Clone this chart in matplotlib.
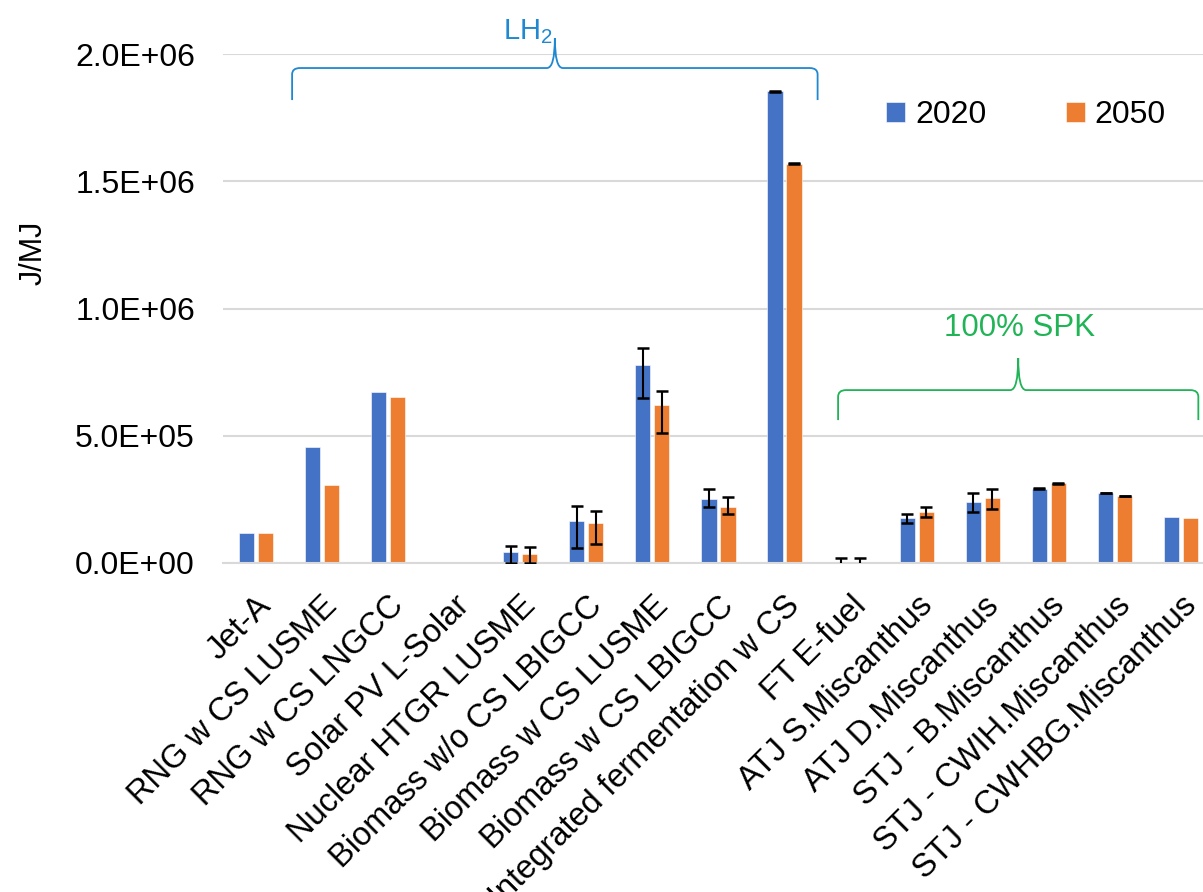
import matplotlib
matplotlib.use("Agg")
import matplotlib.pyplot as plt
from matplotlib.path import Path
from matplotlib.patches import PathPatch
from matplotlib.transforms import ScaledTranslation
import numpy as np

plt.rcParams['font.family'] = ['Liberation Sans', 'DejaVu Sans']

categories = ["Jet-A", "RNG w CS LUSME", "RNG w CS LNGCC", "Solar PV L-Solar",
              "Nuclear HTGR LUSME", "Biomass w/o CS LBIGCC", "Biomass w CS LUSME",
              "Biomass w CS LBIGCC", "Integrated fermentation w CS", "FT E-fuel",
              "ATJ S.Miscanthus", "ATJ D.Miscanthus", "STJ - B.Miscanthus",
              "STJ - CWIH.Miscanthus", "STJ - CWHBG.Miscanthus"]
series_names = ["2020", "2050"]
v2020 = [1.17e5, 4.55e5, 6.70e5, 0, 4.1e4, 1.64e5, 7.76e5, 2.49e5, 1.855e6, 0,
         1.74e5, 2.40e5, 2.91e5, 2.74e5, 1.80e5]
v2050 = [1.17e5, 3.05e5, 6.50e5, 0, 3.5e4, 1.58e5, 6.20e5, 2.20e5, 1.57e6, 0,
         2.00e5, 2.53e5, 3.13e5, 2.62e5, 1.74e5]
# error bars: lower / upper (NaN = none)
err_lo_2020 = [np.nan, np.nan, np.nan, np.nan, 4.1e4, 1.08e5, 1.30e5, 3.0e4, 1.5e3, 2e4,
               1.9e4, 4.1e4, 1.5e3, 1.5e3, np.nan]
err_hi_2020 = [np.nan, np.nan, np.nan, np.nan, 2.6e4, 5.9e4, 7.0e4, 4.0e4, 1.5e3, 2e4,
               1.7e4, 3.3e4, 1.5e3, 1.5e3, np.nan]
err_lo_2050 = [np.nan, np.nan, np.nan, np.nan, 3.5e4, 8.5e4, 1.10e5, 2.7e4, 1.5e3, 2e4,
               2.2e4, 4.1e4, 1.5e3, 1.5e3, np.nan]
err_hi_2050 = [np.nan, np.nan, np.nan, np.nan, 2.7e4, 4.6e4, 5.6e4, 3.8e4, 1.5e3, 2e4,
               2.0e4, 3.7e4, 1.5e3, 1.5e3, np.nan]
yticks = [0, 5e5, 1e6, 1.5e6, 2e6]
ytick_labels = ["0.0E+00", "5.0E+05", "1.0E+06", "1.5E+06", "2.0E+06"]

c_blue = "#4472C4"
c_orange = "#ED7D31"

W, H = 1203, 892
fig = plt.figure(figsize=(W / 100, H / 100), dpi=100)
ax = fig.add_axes([222.7 / W, 1 - 562.7 / H, 991.5 / W, (562.7 - 54.3) / H])

x = np.arange(len(categories))
bw = 0.23
off = 0.143
b1 = ax.bar(x - off, v2020, bw, color=c_blue, edgecolor="white", linewidth=0.4,
            label=series_names[0], zorder=2)
b2 = ax.bar(x + off, v2050, bw, color=c_orange, edgecolor="white", linewidth=0.4,
            label=series_names[1], zorder=2)

for vals, lo, hi, sgn in [(v2020, err_lo_2020, err_hi_2020, -1),
                          (v2050, err_lo_2050, err_hi_2050, 1)]:
    vals = np.array(vals, float)
    lo = np.array(lo, float)
    hi = np.array(hi, float)
    m = ~np.isnan(lo)
    ax.errorbar(x[m] + sgn * off, vals[m], yerr=[lo[m], hi[m]], fmt="none",
                ecolor="black", elinewidth=1.5, capsize=4.5, capthick=1.8, zorder=3)

ax.set_xlim(-0.5, len(categories) - 0.5)
ax.set_ylim(0, 2e6)
ax.set_yticks(yticks)
ax.set_yticklabels(ytick_labels, fontsize=23)
ax.set_xticks(x)
ax.set_xticklabels(categories, rotation=45, ha="right", va="top",
                   rotation_mode="anchor", fontsize=23.5)
shift = ScaledTranslation(-8 / 100, 0, fig.dpi_scale_trans)
for lab in ax.get_xticklabels():
    lab.set_transform(lab.get_transform() + shift)
ax.tick_params(axis="y", length=0, pad=20)
ax.tick_params(axis="x", length=0, pad=20)
ax.grid(axis="y", color="#D9D9D9", linewidth=1.5, zorder=0)
ax.set_axisbelow(True)
for s in ["top", "right", "left"]:
    ax.spines[s].set_visible(False)
ax.spines["bottom"].set_color("#D9D9D9")
ax.spines["bottom"].set_linewidth(1.5)

fig.text(34 / W, 1 - 253 / H, "J/MJ", rotation=90, fontsize=22,
         ha="center", va="center")

ax.legend(handles=[b1, b2], labels=series_names, loc="center", ncol=2,
          bbox_to_anchor=(1026 / W, 1 - 115 / H), bbox_transform=fig.transFigure,
          frameon=False, fontsize=23, handlelength=0.6, handleheight=0.6,
          handletextpad=0.3, columnspacing=2.5)


def brace(x0, x1, y_end, y_line, y_tip, color):
    xm = (x0 + x1) / 2
    rx = 0.12
    ry = (y_tip - y_line) * 0.35
    verts = [(x0, y_end), (x0, y_line - ry * 0.6), (x0, y_line), (x0 + rx, y_line),
             (xm - rx, y_line), (xm, y_line), (xm, y_tip),
             (xm, y_line), (xm + rx, y_line),
             (x1 - rx, y_line), (x1, y_line), (x1, y_line - ry * 0.6), (x1, y_end)]
    codes = [Path.MOVETO, Path.LINETO, Path.CURVE3, Path.CURVE3,
             Path.LINETO, Path.CURVE3, Path.CURVE3,
             Path.CURVE3, Path.CURVE3,
             Path.LINETO, Path.CURVE3, Path.CURVE3, Path.LINETO]
    p = PathPatch(Path(verts, codes), fill=False, edgecolor=color, linewidth=1.3,
                  clip_on=False, zorder=4)
    ax.add_patch(p)


brace(0.55, 8.50, 1.82e6, 1.946e6, 2.064e6, "#1F88D0")
ax.text(4.12, 2.09e6, "LH$_\\mathregular{2}$", color="#1F88D0", fontsize=21,
        ha="center", va="center", clip_on=False)
brace(8.81, 14.26, 5.61e5, 6.79e5, 8.05e5, "#20B456")
ax.text(11.56, 9.23e5, "100% SPK", color="#20B456", fontsize=22.5,
        ha="center", va="center")

fig.savefig("out.png", dpi=100)
